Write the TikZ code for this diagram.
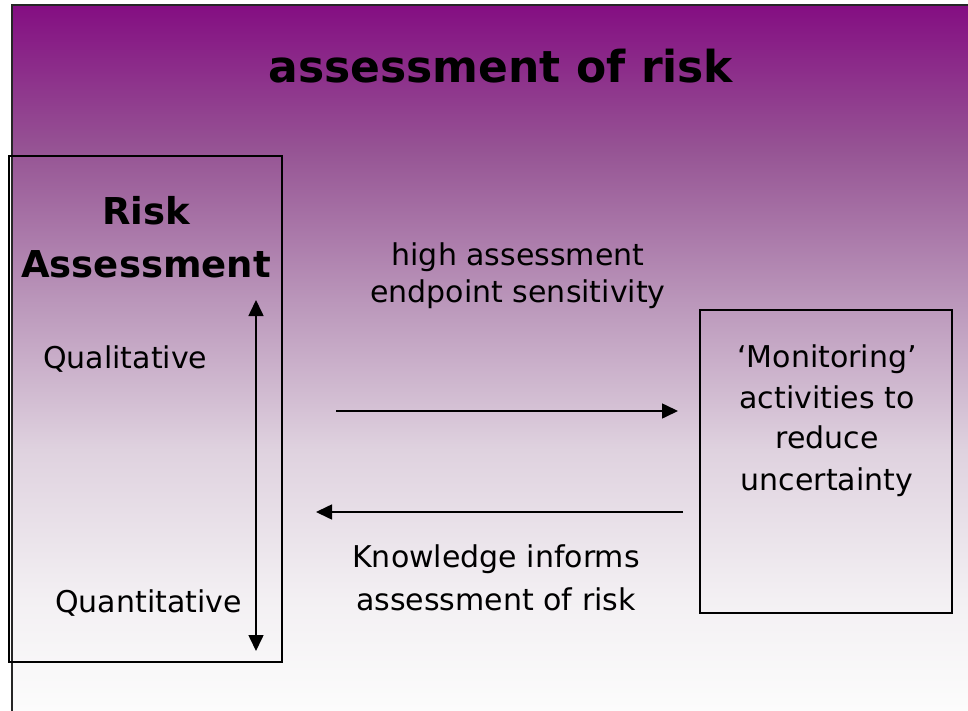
\documentclass[tikz,border=0pt]{standalone}
\usepackage{fontspec}
\setmainfont{DejaVu Sans}
\usetikzlibrary{arrows.meta}
\definecolor{g0}{RGB}{132,14,130}
\definecolor{g1}{RGB}{150,84,148}
\definecolor{g2}{RGB}{186,150,186}
\definecolor{g3}{RGB}{223,210,223}
\definecolor{g4}{RGB}{243,240,243}
\definecolor{g5}{RGB}{252,252,252}
\pgfdeclareverticalshading{bgshade}{100bp}{%
  color(0bp)=(g5); color(25bp)=(g5); color(32.86bp)=(g4);
  color(43.48bp)=(g3); color(54.11bp)=(g2); color(64.73bp)=(g1);
  color(75bp)=(g0); color(100bp)=(g0)}
\tikzset{
  body/.style={font=\fontsize{30}{36}\selectfont, inner sep=0pt, anchor=base},
  boxstyle/.style={draw=black, line width=1.5pt, inner sep=0pt, outer sep=0pt},
  arr/.style={line width=1.6pt, -{Triangle[length=16pt,width=15pt]}},
  darr/.style={line width=1.6pt, {Triangle[length=16pt,width=15pt]}-{Triangle[length=16pt,width=15pt]}},
}
\begin{document}
\begin{tikzpicture}[x=1pt,y=-1pt]
\useasboundingbox (0,0) rectangle (968,711);
\fill[white] (0,0) rectangle (968,711);
% background gradient
\shade[shading=bgshade] (12,5) rectangle (968,711);
% frame
\coordinate (fbl) at (12,711);
\coordinate (ftl) at (12,5);
\coordinate (ftr) at (968,5);
\draw[line width=2pt, draw=black!85] (fbl) -- (ftl) -- (ftr);
% title
\node[body, font=\fontsize{44}{52}\selectfont\bfseries] (title) at (501,83) {assessment of risk};
% left box
\node[boxstyle, minimum width=273pt, minimum height=506pt] (lbox) at (145.5,409) {};
\node[body, font=\fontsize{37}{44}\selectfont\bfseries] (risk) at (146,225) {Risk};
\node[body, font=\fontsize{37}{44}\selectfont\bfseries] (assess) at (146,277) {Assessment};
\node[body, anchor=base west] (qual) at (43,368) {Qualitative};
\node[body, anchor=base west] (quant) at (55,612) {Quantitative};
\coordinate (dtop) at (256,300);
\coordinate (dbot) at (256,651);
\draw[darr] (dtop) -- (dbot);
% right box
\node[boxstyle, minimum width=252pt, minimum height=303pt] (rbox) at (826,461.5) {};
\node[body] (m1) at (827,367) {‘Monitoring’};
\node[body] (m2) at (827,408) {activities to};
\node[body] (m3) at (827,448) {reduce};
\node[body] (m4) at (827,490) {uncertainty};
% arrows
\coordinate (a1s) at (336,411);
\coordinate (a1e) at (678,411);
\coordinate (a2s) at (683,512);
\coordinate (a2e) at (316,512);
\draw[arr] (a1s) -- (a1e);
\draw[arr] (a2s) -- (a2e);
% labels
\node[body] (h1) at (518,265) {high assessment};
\node[body] (h2) at (518,302) {endpoint sensitivity};
\node[body] (k1) at (496,567) {Knowledge informs};
\node[body] (k2) at (496,610) {assessment of risk};
\end{tikzpicture}
\end{document}
